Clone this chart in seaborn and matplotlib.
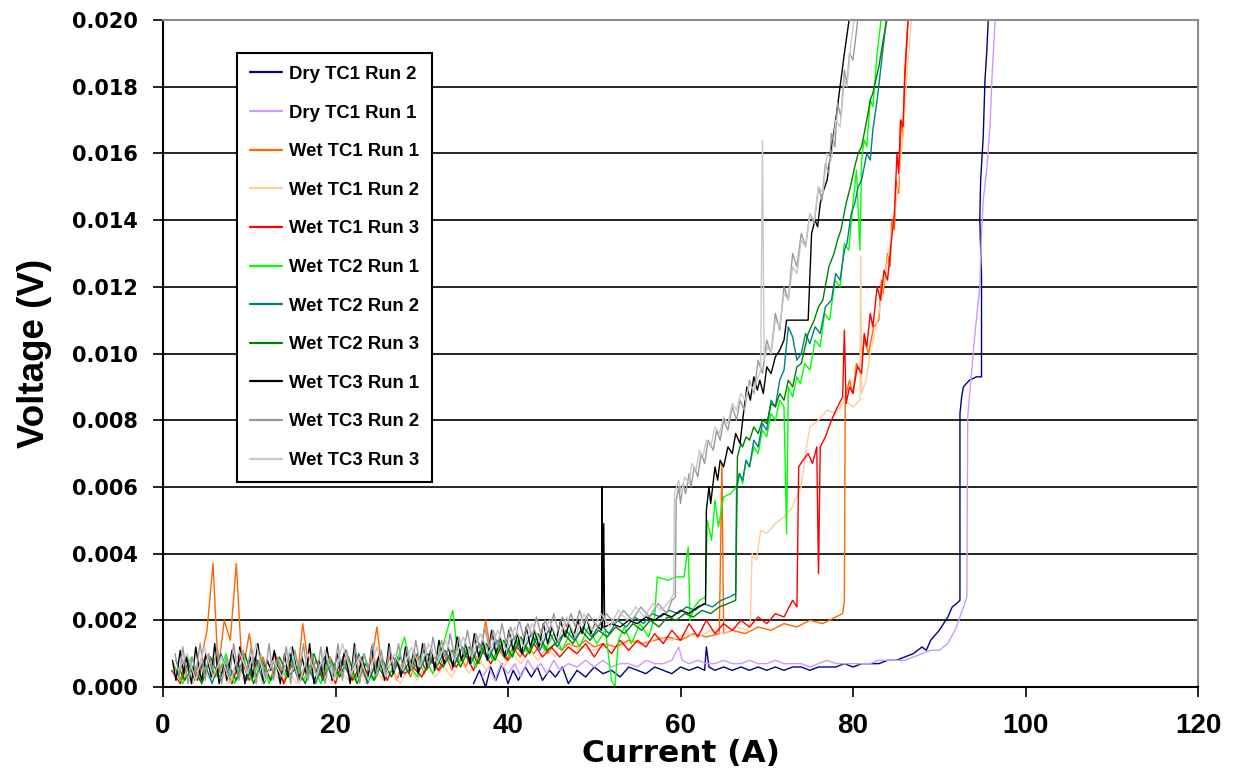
import matplotlib
matplotlib.use("Agg")
import matplotlib.pyplot as plt
import numpy as np
import pandas as pd
import seaborn as sns
from matplotlib.lines import Line2D

# Values: (current in A, voltage in units of 0.1 mV)
V_UNIT = 1e-4

dry_tc1_run2 = [(36.0,1),(36.7,5),(37.4,0),(38.0,6),(38.6,2),(39.3,7),(40.0,1),(40.6,5),(41.2,2),(42.0,6),(42.7,3),(43.4,6),
    (44.0,2),(44.8,5),(45.5,3),(46.3,6),(47.0,1),(48.0,5),(49.0,3),(50.0,6),(51.0,4),(52.0,5),(53.0,3),(54.0,6),(55.0,5),
    (56.0,4),(57.0,6),(58.0,5),(59.0,4),(60.0,6),(61.0,5),(62.0,6),(62.8,5),(63.0,12),(63.3,6),(64.0,5),(65.0,6),(66.0,5),
    (67.0,6),(68.0,5),(69.0,6),(70.0,5),(71.0,6),(72.0,5),(73.0,6),(74.0,6),(75.0,5),(76.0,6),(77.0,6),(78.0,6),(79.0,7),
    (80.0,6),(81.0,7),(82.0,7),(83.0,7),(84.0,8),(85.0,8),(86.0,9),(87.0,10),(88.0,12),(88.5,11),(89.0,14),(90.0,17),
    (90.5,19),(91.0,21),(91.5,24),(92.0,25),(92.4,26),(92.4,82),(92.6,87),(92.8,90),(93.5,92),(94.3,93),(94.9,93),
    (94.9,123),(94.7,140),(94.8,152),(95.1,165),(95.3,182),(95.5,190),(95.7,201)]

dry_tc1_run1 = [(37.0,3),(37.8,6),(38.5,2),(39.2,7),(40.0,4),(40.8,7),(41.5,3),(42.3,8),(43.0,5),(43.8,7),(44.5,4),(45.3,8),
    (46.0,5),(47.0,7),(48.0,6),(49.0,8),(50.0,6),(51.0,8),(52.0,6),(53.0,7),(54.0,7),(55.0,6),(56.0,8),(57.0,7),(58.0,7),
    (59.0,8),(59.8,12),(60.2,8),(61.0,7),(62.0,8),(63.0,7),(64.0,7),(65.0,8),(66.0,7),(67.0,7),(68.0,8),(69.0,7),(70.0,7),
    (71.0,8),(72.0,7),(73.0,7),(74.0,7),(75.0,6),(76.0,7),(77.0,8),(78.0,7),(79.0,7),(80.0,7),(81.0,7),(82.0,7),(83.0,8),
    (84.0,8),(85.0,8),(86.0,8),(87.0,9),(88.0,10),(89.0,11),(90.0,11),(91.0,13),(92.0,18),(92.8,24),(93.2,27),(93.3,81),
    (93.6,90),(94.0,102),(94.3,110),(94.7,120),(94.9,136),(95.1,146),(95.5,155),(95.9,169),(96.1,182),(96.5,201)]

wet_tc1_run1 = [(1.2,7),(2.0,2),(2.8,9),(3.6,3),(4.4,8),(5.1,17),(5.8,37),(6.4,5),(7.1,20),(7.8,14),(8.5,37),(9.2,4),
    (10.0,16),(10.8,3),(11.6,9),(12.4,2),(13.2,8),(14.0,1),(14.8,9),(15.6,3),(16.2,19),(17.0,4),(17.8,8),(18.6,2),(19.4,9),
    (20.2,3),(21.0,8),(21.8,2),(22.6,9),(23.4,3),(24.2,8),(24.8,18),(25.5,3),(26.3,9),(27.1,2),(27.9,8),(28.7,3),(29.5,9),
    (30.3,4),(31.1,9),(31.9,5),(32.7,10),(33.5,5),(34.3,10),(35.1,6),(35.9,11),(36.7,7),(37.4,20),(38.2,8),(39.0,11),
    (39.8,8),(40.6,12),(41.4,9),(42.2,12),(43.0,10),(43.8,13),(44.6,10),(45.4,13),(46.2,11),(47.0,13),(48.0,12),(49.0,14),
    (50.0,12),(51.0,13),(52.5,12),(54.0,14),(55.5,13),(57.0,14),(58.5,15),(60.0,14),(61.5,16),(63.0,15),(64.5,16),
    (64.8,67),(65.0,16),(66.0,17),(67.5,16),(69.0,18),(70.5,17),(72.0,19),(73.5,18),(75.0,20),(76.5,19),(78.0,21),
    (78.8,22),(79.0,26),(79.1,87),(79.6,92),(80.0,88),(80.4,97),(80.8,95),(81.3,104),(81.8,100),(82.4,108),(83.0,110),
    (83.3,122),(83.5,118),(84.0,130),(84.3,126),(84.5,140),(84.8,137),(85.0,152),(85.3,148),(85.6,170),(85.8,165),
    (86.0,185),(86.4,201)]

wet_tc1_run2 = [(1.5,3),(2.5,7),(3.5,1),(4.5,6),(5.5,2),(6.5,8),(7.5,1),(8.5,5),(9.5,2),(10.5,7),(11.5,1),(12.5,6),
    (13.5,2),(14.5,5),(15.5,1),(16.5,7),(17.5,2),(18.5,6),(19.5,1),(20.5,5),(21.5,2),(22.5,7),(23.5,1),(24.5,6),(25.5,2),
    (26.5,5),(27.5,1),(28.5,6),(29.5,2),(30.5,7),(31.5,3),(32.5,6),(33.5,3),(34.5,8),(35.5,4),(36.5,9),(37.5,5),(38.5,9),
    (39.5,6),(40.5,10),(41.5,7),(42.5,11),(43.5,8),(44.5,12),(45.5,9),(46.7,19),(47.5,10),(48.5,12),(50.0,11),(51.5,13),
    (53.0,12),(54.5,14),(56.0,13),(57.5,15),(59.0,14),(60.5,16),(62.0,15),(63.5,17),(65.0,16),(66.5,18),(67.8,17),
    (68.1,20),(68.3,40),(68.8,38),(69.3,47),(70.0,46),(71.0,49),(72.0,51),(73.0,54),(73.6,58),(74.0,60),(74.5,70),
    (75.0,78),(76.0,80),(77.0,83),(78.0,82),(79.0,86),(80.0,84),(80.8,86),(80.9,129),(81.0,88),(81.5,92),(82.0,100),
    (83.0,112),(84.0,128),(85.0,145),(85.8,165),(86.3,185),(86.8,201)]

wet_tc1_run3 = [(1.0,5),(2.0,1),(3.0,8),(4.0,2),(5.0,10),(6.0,3),(7.0,7),(8.0,1),(9.0,9),(10.0,2),(11.0,8),(12.0,3),
    (13.0,10),(14.0,1),(15.0,7),(16.0,2),(17.0,9),(18.0,3),(19.0,8),(20.0,1),(21.0,10),(22.0,2),(23.0,7),(24.0,3),(25.0,9),
    (26.0,2),(27.0,8),(28.0,4),(29.0,6),(30.0,3),(31.0,8),(32.0,5),(33.0,9),(34.0,6),(35.0,10),(36.0,5),(37.0,11),(38.0,7),
    (39.0,12),(40.0,8),(41.0,12),(42.0,9),(43.0,13),(44.0,9),(45.0,12),(46.0,9),(47.0,12),(48.0,10),(49.0,13),(50.0,9),
    (51.0,13),(52.0,10),(53.0,14),(54.0,11),(55.0,14),(56.0,12),(57.0,16),(58.0,13),(59.0,17),(60.0,14),(61.0,19),
    (62.0,15),(63.0,20),(64.0,16),(65.0,19),(66.0,17),(67.0,20),(68.0,18),(69.0,21),(70.0,19),(71.0,22),(72.0,21),
    (73.0,26),(73.5,24),(73.7,66),(74.2,68),(74.8,70),(75.3,67),(75.8,72),(76.0,34),(76.2,72),(76.8,75),(77.5,80),
    (78.2,84),(78.8,87),(79.0,107),(79.2,85),(79.6,90),(80.0,88),(80.5,96),(81.0,94),(81.3,106),(81.6,102),(82.0,112),
    (82.3,108),(82.8,120),(83.2,116),(83.6,125),(84.0,122),(84.5,135),(84.8,142),(85.1,160),(85.3,154),(85.5,170),
    (85.8,168),(86.0,182),(86.4,201)]

wet_tc2_run1 = [(1.3,6),(2.3,1),(3.3,9),(4.3,2),(5.3,7),(6.3,3),(7.3,10),(8.3,1),(9.3,8),(10.3,2),(11.3,9),(12.3,1),
    (13.3,7),(14.3,3),(15.3,10),(16.3,2),(17.3,8),(18.3,1),(19.3,9),(20.3,3),(21.3,7),(22.3,2),(23.3,10),(24.3,2),(25.3,8),
    (26.3,4),(27.3,9),(28.0,15),(28.7,6),(29.5,3),(30.3,9),(31.3,4),(32.3,11),(33.6,23),(34.3,7),(35.3,12),(36.3,6),
    (37.3,13),(38.3,8),(39.3,14),(40.3,9),(41.3,15),(42.3,10),(43.3,16),(44.3,11),(45.3,16),(46.3,11),(47.3,17),(48.3,12),
    (49.3,18),(50.3,13),(51.3,17),(52.0,2),(52.4,0),(52.8,14),(53.5,18),(54.3,13),(55.3,19),(56.3,15),(57.0,21),(57.3,33),
    (58.5,32),(59.5,33),(60.4,33),(60.9,42),(61.1,20),(61.6,24),(62.2,26),(62.9,27),(63.1,50),(63.6,44),(64.0,56),
    (64.4,48),(65.0,57),(65.8,58),(66.5,60),(66.9,64),(67.2,61),(67.6,68),(68.0,66),(68.5,72),(69.0,70),(69.5,77),
    (70.0,75),(70.5,82),(71.0,80),(71.5,86),(72.0,84),(72.3,46),(72.5,90),(73.0,87),(73.5,93),(73.9,91),(74.4,97),
    (75.0,95),(75.6,104),(76.2,102),(76.7,112),(77.3,110),(77.9,122),(78.5,120),(79.0,133),(79.5,131),(80.0,145),
    (80.4,155),(80.8,131),(81.0,158),(81.3,164),(81.6,162),(82.0,176),(82.3,174),(82.8,190),(83.3,201)]

wet_tc2_run2 = [(1.7,4),(2.7,9),(3.7,2),(4.7,8),(5.7,1),(6.7,10),(7.7,3),(8.7,7),(9.7,2),(10.7,9),(11.7,1),(12.7,8),
    (13.7,3),(14.7,10),(15.7,2),(16.7,7),(17.7,1),(18.7,9),(19.7,2),(20.7,8),(21.7,3),(22.7,10),(23.7,1),(24.7,7),(25.7,3),
    (26.7,9),(27.7,4),(28.7,8),(29.7,5),(30.7,10),(31.7,6),(32.7,11),(33.7,6),(34.7,12),(35.7,7),(36.7,13),(37.7,8),
    (38.7,14),(39.7,9),(40.7,15),(41.7,10),(42.7,16),(43.7,11),(44.7,17),(45.7,12),(46.7,17),(47.7,14),(48.7,18),(49.7,15),
    (50.7,19),(51.7,16),(52.7,20),(53.7,18),(54.7,21),(55.7,19),(56.7,22),(57.7,21),(58.7,23),(59.7,22),(60.7,24),
    (61.7,23),(62.7,25),(63.7,24),(64.7,26),(65.7,27),(66.4,28),(66.5,59),(66.8,64),(67.2,62),(67.6,68),(68.0,66),
    (68.5,74),(69.0,72),(69.5,79),(70.0,77),(70.5,86),(71.0,84),(71.5,92),(72.0,95),(72.5,108),(73.0,105),(73.5,98),
    (74.0,100),(74.5,106),(75.0,103),(75.6,108),(76.2,106),(76.8,114),(77.5,116),(78.0,124),(78.5,122),(79.0,131),
    (79.3,133),(79.8,142),(80.2,145),(80.6,150),(81.0,152),(81.6,160),(82.0,158),(82.3,167),(82.8,176),(83.2,185),
    (83.9,201)]

wet_tc2_run3 = [(1.5,8),(2.5,2),(3.5,6),(4.5,1),(5.5,9),(6.5,3),(7.5,7),(8.5,2),(9.5,10),(10.5,1),(11.5,8),(12.5,2),
    (13.5,9),(14.5,3),(15.5,6),(16.5,1),(17.5,10),(18.5,2),(19.5,8),(20.5,3),(21.5,9),(22.5,1),(23.5,7),(24.5,2),(25.5,8),
    (26.5,3),(27.5,9),(28.5,4),(29.5,10),(30.5,5),(31.5,9),(32.5,6),(33.5,11),(34.5,6),(35.5,12),(36.5,7),(37.5,13),
    (38.5,8),(39.5,14),(40.5,9),(41.5,15),(42.5,10),(43.5,16),(44.5,11),(45.5,13),(46.5,16),(47.5,13),(48.5,17),(49.5,14),
    (50.5,17),(51.5,15),(52.5,18),(53.5,16),(54.5,19),(55.5,17),(56.5,20),(57.5,18),(58.5,21),(59.5,20),(60.5,22),
    (61.5,21),(62.5,23),(63.5,22),(64.5,24),(65.5,25),(66.4,26),(66.6,69),(67.0,73),(67.2,72),(67.6,75),(68.0,74),
    (68.5,78),(69.0,76),(69.5,80),(70.0,79),(70.5,85),(71.0,84),(71.5,88),(72.0,86),(72.5,92),(73.0,90),(73.5,96),
    (74.0,97),(74.8,106),(75.5,110),(76.0,114),(76.5,116),(77.2,126),(77.8,130),(78.2,134),(78.6,137),(79.2,145),
    (79.7,150),(80.2,156),(80.6,160),(81.0,162),(81.6,170),(82.0,176),(82.3,178),(83.0,186),(83.5,194),(84.0,201)]

wet_tc3_run1 = [(1.1,8),(1.5,2),(2.0,11),(2.4,4),(2.7,9),(3.3,1),(3.8,12),(4.2,5),(4.5,2),(5.0,10),(5.6,3),(6.0,13),
    (6.5,1),(7.1,7),(7.4,2),(8.0,11),(8.6,4),(8.9,12),(9.5,1),(10.1,9),(10.4,3),(11.0,13),(11.6,2),(12.1,8),(12.5,5),
    (12.9,11),(13.6,1),(14.1,10),(14.5,3),(15.0,12),(15.7,2),(16.1,9),(16.6,4),(17.0,13),(17.5,1),(18.1,8),(18.6,3),
    (19.0,12),(19.6,2),(20.2,10),(20.6,5),(21.1,11),(21.7,1),(22.2,13),(22.6,3),(23.1,9),(23.7,2),(24.2,12),(24.6,4),
    (25.1,10),(25.7,2),(26.2,13),(26.7,4),(27.1,9),(27.6,3),(28.1,12),(28.6,5),(29.1,11),(29.6,4),(30.1,13),(30.6,6),
    (31.1,12),(31.5,5),(32.0,14),(32.6,7),(33.1,12),(33.6,6),(34.1,15),(34.6,8),(35.1,13),(35.6,7),(36.1,16),(36.6,9),
    (37.1,14),(37.6,8),(38.1,17),(38.6,10),(39.1,15),(39.6,9),(40.1,17),(40.6,11),(41.1,16),(41.6,10),(42.1,18),(42.6,12),
    (43.1,17),(43.6,12),(44.1,19),(44.6,13),(45.1,18),(45.6,14),(46.1,20),(46.6,15),(47.1,19),(47.6,15),(48.1,20),
    (48.6,16),(49.1,21),(49.6,16),(50.1,19),(50.85,17),(50.9,60),(50.95,18),(51.1,49),(51.2,18),(52.0,19),(53.0,18),
    (54.0,20),(55.0,19),(56.0,21),(57.0,20),(58.0,22),(59.0,21),(60.0,23),(61.0,22),(62.0,24),(62.9,25),(63.0,53),
    (63.3,60),(63.5,55),(64.0,66),(64.3,62),(64.6,68),(65.0,66),(65.5,72),(66.0,70),(66.4,76),(66.9,73),(67.3,82),
    (67.7,90),(68.1,86),(68.5,93),(68.9,89),(69.2,92),(69.6,88),(70.0,96),(70.5,94),(71.0,99),(71.5,101),(72.0,104),
    (72.3,110),(74.8,110),(75.2,136),(75.6,140),(75.9,138),(76.2,145),(76.6,149),(77.0,152),(77.4,160),(77.7,165),
    (78.1,172),(78.5,180),(79.0,190),(79.6,201)]

wet_tc3_run2 = [(1.4,10),(1.9,3),(2.3,12),(2.9,1),(3.4,9),(3.8,4),(4.3,13),(4.9,2),(5.3,10),(5.8,5),(6.3,12),(6.8,1),
    (7.3,9),(7.7,3),(8.2,13),(8.8,2),(9.3,11),(9.7,4),(10.2,12),(10.8,1),(11.3,10),(11.8,3),(12.3,13),(12.8,2),(13.3,9),
    (13.8,5),(14.3,12),(14.8,1),(15.3,11),(15.8,4),(16.3,13),(16.8,2),(17.3,10),(17.8,3),(18.3,12),(18.8,1),(19.3,9),
    (19.8,4),(20.3,13),(20.8,2),(21.3,11),(21.8,3),(22.3,12),(22.8,1),(23.3,10),(23.8,5),(24.3,13),(24.8,3),(25.3,11),
    (25.8,4),(26.3,12),(26.8,5),(27.3,13),(27.8,6),(28.3,12),(28.8,5),(29.3,14),(29.8,7),(30.3,13),(30.8,6),(31.3,15),
    (31.8,8),(32.3,14),(32.8,8),(33.3,16),(33.8,9),(34.3,15),(34.8,10),(35.3,17),(35.8,10),(36.3,16),(36.8,11),(37.3,18),
    (37.8,12),(38.3,17),(38.8,12),(39.3,19),(39.8,13),(40.3,18),(40.8,14),(41.3,20),(41.8,15),(42.3,19),(42.8,15),
    (43.3,21),(43.8,16),(44.3,20),(44.8,17),(45.3,22),(45.8,17),(46.3,21),(46.8,18),(47.3,22),(47.8,18),(48.3,23),
    (48.8,19),(49.3,22),(50.4,18),(51.4,22),(52.4,19),(53.4,23),(54.4,20),(55.4,24),(56.4,21),(57.4,25),(58.4,22),
    (59.0,26),(59.4,27),(59.5,56),(59.8,60),(60.0,55),(60.3,61),(60.6,58),(61.0,64),(61.2,60),(61.6,66),(62.0,63),
    (62.4,70),(62.8,67),(63.2,74),(63.8,71),(64.2,77),(64.6,74),(65.0,80),(65.5,77),(66.0,84),(66.5,80),(66.9,86),
    (67.4,83),(68.0,92),(68.5,88),(69.0,98),(69.5,94),(70.0,104),(70.5,100),(71.0,112),(71.5,107),(72.0,120),(72.5,116),
    (73.0,130),(73.5,126),(74.0,136),(74.5,132),(75.0,142),(75.5,139),(76.0,150),(76.4,146),(76.8,157),(77.2,154),
    (77.5,166),(77.9,162),(78.2,175),(78.6,171),(79.0,185),(79.3,181),(79.6,190),(80.0,188),(80.6,201)]

wet_tc3_run3 = [(1.8,5),(2.8,10),(3.8,2),(4.8,12),(5.8,3),(6.8,9),(7.8,1),(8.8,11),(9.8,4),(10.8,13),(11.8,2),(12.8,8),
    (13.8,3),(14.8,12),(15.8,1),(16.8,10),(17.8,3),(18.8,11),(19.8,2),(20.8,13),(21.8,4),(22.8,9),(23.8,2),(24.8,12),
    (25.8,3),(26.8,10),(27.8,5),(28.8,12),(29.8,6),(30.8,13),(31.8,7),(32.8,14),(33.8,8),(34.8,15),(35.8,9),(36.8,16),
    (37.8,10),(38.8,17),(39.8,11),(40.8,18),(41.8,12),(42.8,19),(43.8,13),(44.8,20),(45.8,14),(46.8,21),(47.8,15),(48.8,22),
    (49.8,17),(50.8,22),(51.8,18),(52.8,23),(53.8,20),(54.8,24),(55.8,21),(56.8,25),(57.8,23),(58.8,26),(59.2,28),
    (59.3,58),(59.8,62),(60.1,58),(60.5,63),(61.0,61),(61.3,67),(61.8,65),(62.2,71),(62.6,69),(63.0,74),(63.5,72),
    (64.0,78),(64.5,76),(65.0,81),(65.5,79),(66.0,85),(66.5,83),(67.0,88),(67.5,86),(68.0,91),(68.5,89),(69.0,93),
    (69.3,95),(69.5,164),(69.7,98),(70.1,102),(70.5,100),(71.0,110),(71.5,108),(72.0,118),(72.5,116),(73.0,126),
    (73.5,124),(74.0,134),(74.5,132),(75.0,142),(75.5,140),(76.0,150),(76.5,148),(77.0,160),(77.5,158),(78.0,170),
    (78.5,168),(79.0,182),(79.3,180),(79.8,194),(80.2,201)]

series_names = ["Dry TC1 Run 2", "Dry TC1 Run 1", "Wet TC1 Run 1", "Wet TC1 Run 2", "Wet TC1 Run 3",
                "Wet TC2 Run 1", "Wet TC2 Run 2", "Wet TC2 Run 3", "Wet TC3 Run 1", "Wet TC3 Run 2", "Wet TC3 Run 3"]
series_data = [dry_tc1_run2, dry_tc1_run1, wet_tc1_run1, wet_tc1_run2, wet_tc1_run3,
               wet_tc2_run1, wet_tc2_run2, wet_tc2_run3, wet_tc3_run1, wet_tc3_run2, wet_tc3_run3]
series_colors = ["#000080", "#CC99FF", "#FF6600", "#FFCC99", "#FF0000",
                 "#00FF00", "#008080", "#008000", "#000000", "#999999", "#C8C8C8"]

x_ticks = [0, 20, 40, 60, 80, 100, 120]
x_tick_labels = ["0", "20", "40", "60", "80", "100", "120"]
y_ticks = [0.000, 0.002, 0.004, 0.006, 0.008, 0.010, 0.012, 0.014, 0.016, 0.018, 0.020]
y_tick_labels = ["0.000", "0.002", "0.004", "0.006", "0.008", "0.010", "0.012", "0.014", "0.016", "0.018", "0.020"]

rows = []
for name, pts in zip(series_names, series_data):
    for i, v in pts:
        rows.append((name, i, v * V_UNIT))
df = pd.DataFrame(rows, columns=["series", "current", "voltage"])

sns.set_style("white")
plt.rcParams["font.family"] = ["Liberation Sans", "DejaVu Sans"]
plt.rcParams.update({"text.color": "black", "axes.labelcolor": "black",
                     "xtick.color": "black", "ytick.color": "black"})

W, H = 1238, 777
fig = plt.figure(figsize=(W / 100, H / 100), dpi=100)
ax = fig.add_axes([163 / W, 90 / H, 1035 / W, 667 / H])

sns.lineplot(data=df, x="current", y="voltage", hue="series", hue_order=series_names,
             palette=dict(zip(series_names, series_colors)), sort=False, estimator=None,
             legend=False, linewidth=1.0, ax=ax)

ax.set_xlim(0, 120)
ax.set_ylim(0, 0.020)
ax.set_xticks(x_ticks)
ax.set_xticklabels(x_tick_labels, fontfamily="Liberation Sans", fontweight="bold", fontsize=20, color="black")
ax.set_yticks(y_ticks)
ax.set_yticklabels(y_tick_labels, fontfamily="DejaVu Sans", fontweight="bold", fontsize=15, color="black")
ax.tick_params(axis="x", direction="out", length=7, width=1.2, color="black", bottom=True, pad=12)
ax.tick_params(axis="y", direction="out", length=7, width=1.2, color="black", left=True, pad=11)

ax.grid(axis="y", color="black", linewidth=1.2)
ax.grid(axis="x", visible=False)
ax.set_axisbelow(True)
for side in ["left", "bottom"]:
    ax.spines[side].set_color("black")
    ax.spines[side].set_linewidth(1.5)
for side in ["top", "right"]:
    ax.spines[side].set_color("#8c8c8c")
    ax.spines[side].set_linewidth(1.5)

ax.set_xlabel("Current (A)", fontsize=22.5, fontweight="bold", fontfamily="DejaVu Sans", color="black")
ax.xaxis.set_label_coords(0.5, -0.099)
ax.xaxis.label.set_va("center")
ax.set_ylabel("Voltage (V)", fontsize=26.5, fontweight="bold", color="black")
ax.yaxis.set_label_coords(-0.1237, 0.5)
ax.yaxis.label.set_va("center")

handles = [Line2D([], [], color=c, linewidth=1.6) for c in series_colors]
leg = ax.legend(handles, series_names, loc="upper left", bbox_to_anchor=(0.0715, 0.9505),
                borderaxespad=0, frameon=True, fancybox=False, edgecolor="black", framealpha=1,
                prop={"family": "Liberation Sans", "weight": "bold", "size": 13.3},
                labelspacing=1.17, handlelength=1.75, handletextpad=0.35, borderpad=0.7)
leg.get_frame().set_linewidth(1.5)
for t in leg.get_texts():
    t.set_color("black")

fig.savefig("out.png", dpi=100)
